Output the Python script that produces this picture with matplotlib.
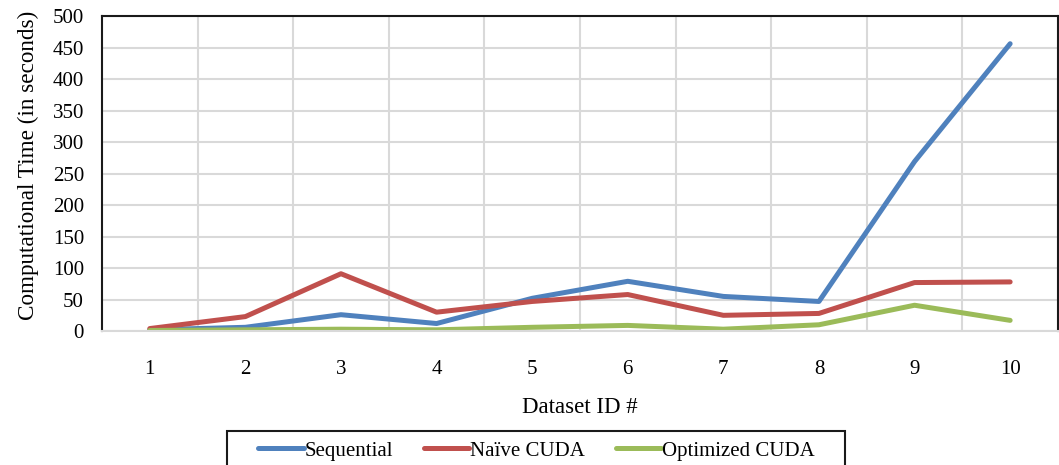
import numpy as np
import matplotlib
matplotlib.use("Agg")
import matplotlib.pyplot as plt
from matplotlib.patches import Rectangle

dataset_ids = [1, 2, 3, 4, 5, 6, 7, 8, 9, 10]
sequential = [2, 6, 26, 12, 52, 79, 55, 47, 269, 456]
naive_cuda = [4, 23, 91, 30, 47, 58, 25, 28, 77, 78]
optimized_cuda = [1, 2, 3, 2, 6, 9, 3, 10, 41, 17]

plt.rcParams["font.family"] = ["Liberation Serif", "DejaVu Serif"]

fig = plt.figure(figsize=(10.59, 4.65), dpi=100)
ax = fig.add_axes([0.0963, 0.288, 0.9027, 0.6776])

x = np.arange(1, len(dataset_ids) + 1)
ax.plot(x, sequential, color="#4F81BD", lw=3.6, label="Sequential", solid_capstyle="round")
ax.plot(x, naive_cuda, color="#C0504D", lw=3.6, label="Naïve CUDA", solid_capstyle="round")
ax.plot(x, optimized_cuda, color="#9BBB59", lw=3.6, label="Optimized CUDA", solid_capstyle="round")

ax.set_xlim(0.5, len(dataset_ids) + 0.5)
ax.set_ylim(0, 500)
ax.set_yticks(np.arange(0, 501, 50))
ax.set_xticks(x)
ax.set_xticklabels([str(d) for d in dataset_ids])
ax.set_xticks(np.arange(1.5, len(dataset_ids), 1), minor=True)

ax.grid(axis="y", which="major", color="#D9D9D9", lw=1.5)
ax.grid(axis="x", which="minor", color="#D9D9D9", lw=1.5)
ax.set_axisbelow(True)

ax.tick_params(axis="both", which="both", length=0, labelsize=15)
ax.tick_params(axis="x", pad=21)
ax.tick_params(axis="y", pad=13)

for side in ["left", "top", "right"]:
    ax.spines[side].set_color("#1A1A1A")
    ax.spines[side].set_linewidth(1.5)
ax.spines["bottom"].set_color("#D9D9D9")
ax.spines["bottom"].set_linewidth(1.5)

ax.set_xlabel("Dataset ID #", fontsize=16.5, labelpad=13)
ax.set_ylabel("Computational Time (in seconds)", fontsize=16.7, labelpad=10, y=0.527)

# legend entries without frame; the box is drawn separately and runs off the bottom
leg = fig.legend(loc="upper left", bbox_to_anchor=(258 / 1059, 1 - 441 / 465), ncol=3,
                 fontsize=15, frameon=False, handlelength=2.2,
                 handletextpad=0.05, columnspacing=1.45, borderpad=0, borderaxespad=0)
fig.patches.append(Rectangle((227 / 1059, -0.05), (845 - 227) / 1059, 0.05 + 1 - 431 / 465,
                             transform=fig.transFigure, fill=False,
                             edgecolor="#1A1A1A", lw=1.5))

plt.savefig("out.png", dpi=100)
plt.close()
